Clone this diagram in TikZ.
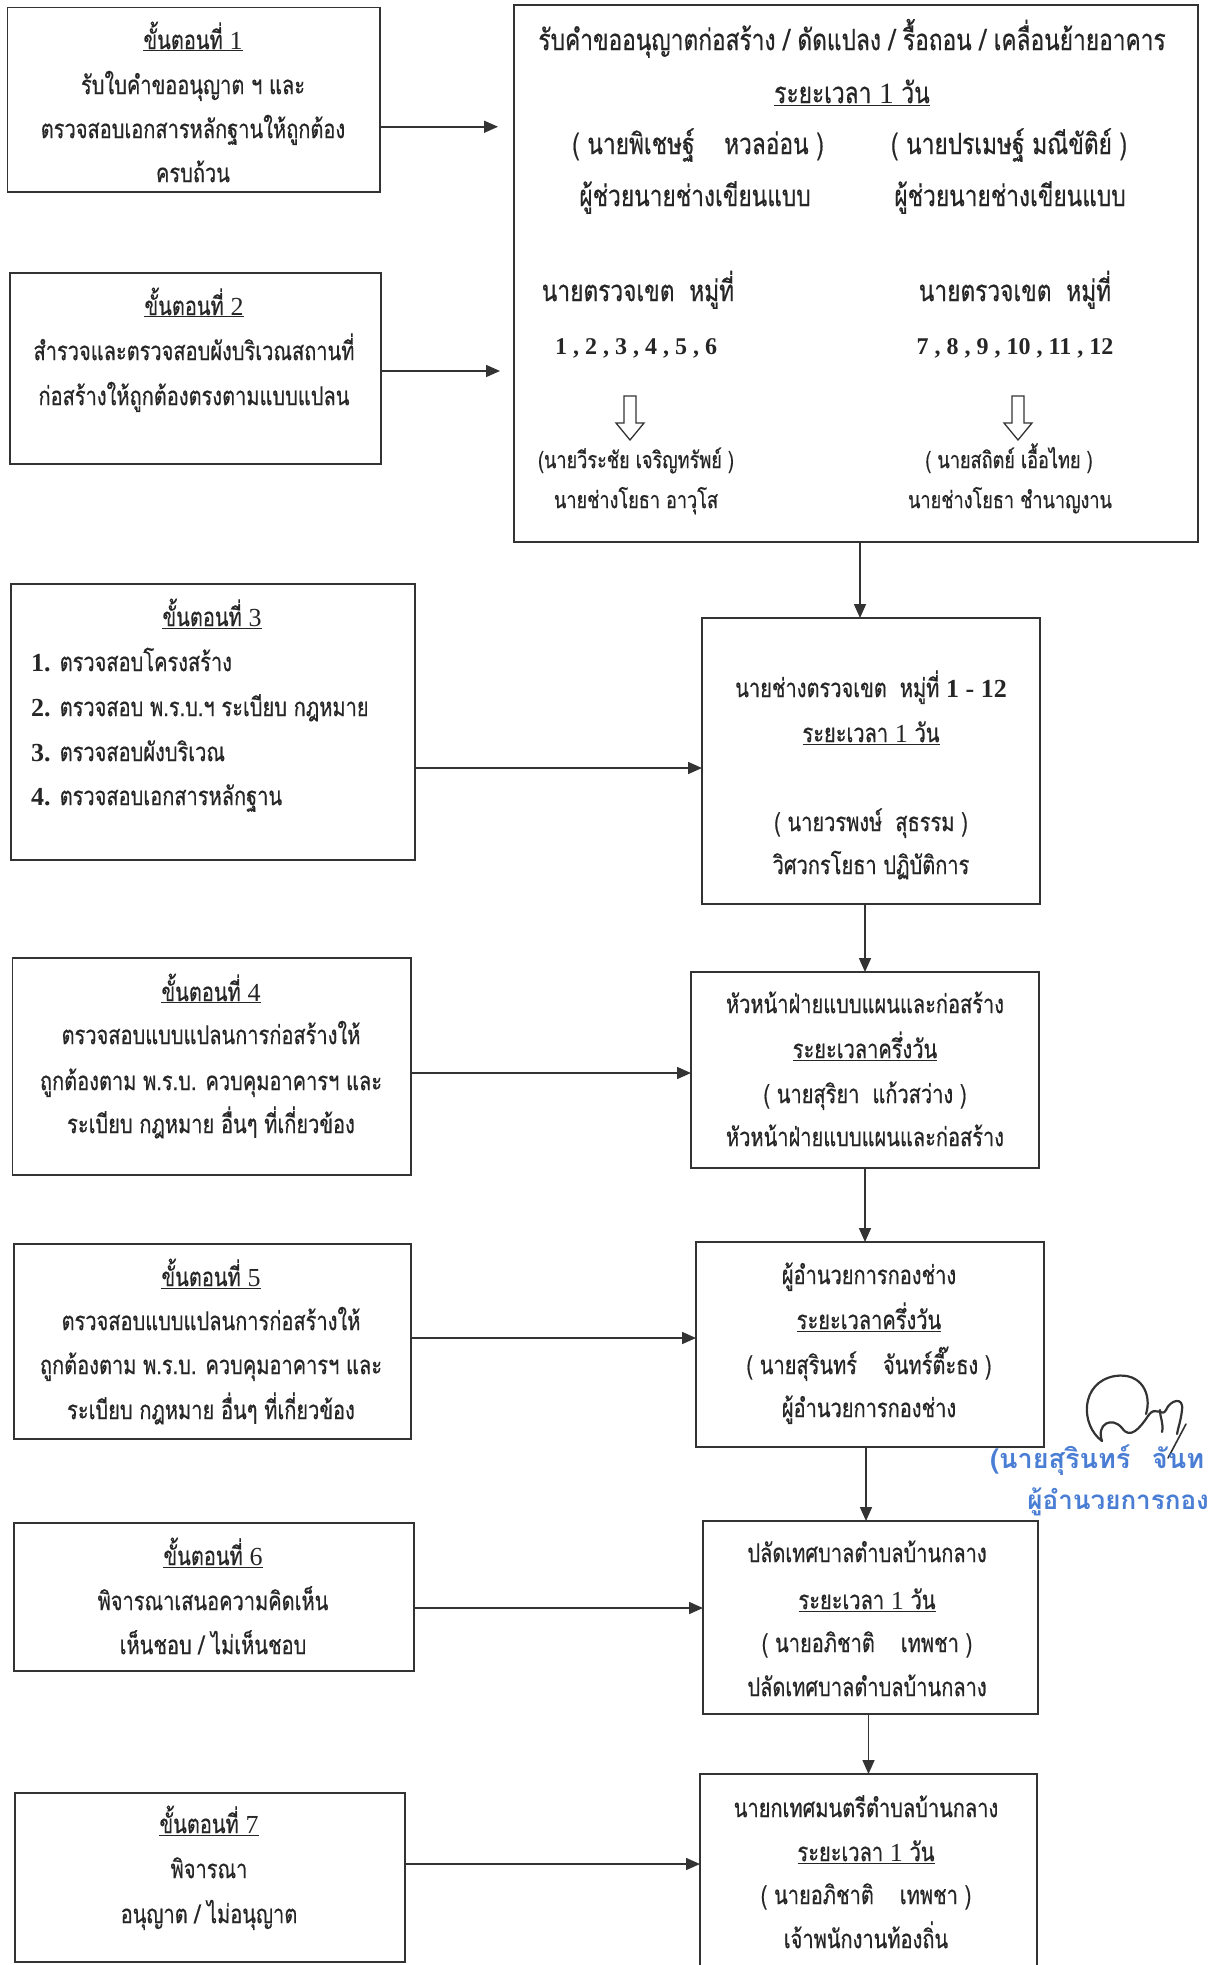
\documentclass[tikz,border=0pt]{standalone}
\usepackage{fontspec}
\usetikzlibrary{arrows.meta}
\newfontfamily\thaifont[Script=Thai,FakeStretch=0.77,FakeBold=0.5]{Loma}
\newfontfamily\sigfont[Script=Thai]{Loma}
\newfontfamily\numfont{Liberation Serif}
\definecolor{ink}{HTML}{262626}
\definecolor{edge}{HTML}{333333}
\definecolor{sigblue}{HTML}{4A7DD4}
\newcommand{\dg}[1]{{\numfont #1}}
\newcommand{\dgb}[1]{{\numfont\bfseries #1}}
\newcommand{\fsz}[1]{\fontsize{#1}{#1}\selectfont}
% box node given by its corners (x1,y1) (x2,y2), pixel-like units
\newcommand{\boxnode}[5]{%
  \node[flowbox, minimum width={#4-#2}, minimum height={#5-#3}] (#1) at ({(#2+#4)/2},{(#3+#5)/2}) {};}

\tikzset{
  flowbox/.style={draw=edge, line width=1.8pt, inner sep=0pt, outer sep=0pt},
  tx/.style={inner sep=0pt, anchor=mid, yshift=-7pt, text=ink, font=\thaifont\fsz{26}},
  txs/.style={tx, font=\thaifont\fsz{23.5}},
  txl/.style={tx, font=\thaifont\fsz{29.5}},
  conn/.style={draw=edge, line width=1.6pt, -{Triangle[length=14pt,width=12pt]}},
  hollow/.style={draw=edge, line width=1.3pt, fill=white, line join=miter},
  sig/.style={draw=edge, line width=2.2pt, line cap=round, line join=round},
}

\begin{document}
\begin{tikzpicture}[x=1pt,y=-1pt]
\fill[white] (0,0) rectangle (1211,1965);
\useasboundingbox (0,0) rectangle (1211,1965);

% ---------- step boxes (left column) ----------
\boxnode{s1}{7.5}{7.5}{380}{192}
\boxnode{s2}{10}{273}{381}{464}
\boxnode{s3}{11}{584}{415}{860}
\boxnode{s4}{12.5}{958}{411}{1175}
\boxnode{s5}{14}{1244}{411}{1439}
\boxnode{s6}{14}{1523}{414}{1671}
\boxnode{s7}{15}{1793}{405}{1962}

% ---------- responsible officers (right column) ----------
\boxnode{big}{514}{5}{1198}{542}
\boxnode{r1}{702}{618}{1040}{904}
\boxnode{r2}{691}{972}{1039}{1168}
\boxnode{r3}{696}{1242}{1044}{1447}
\boxnode{r4}{703}{1521}{1038}{1714}
\boxnode{r5}{700}{1774}{1037}{1968}

% ---------- step 1 ----------
\node[tx] (s1t) at (193,40) {\underline{ขั้นตอนที่ \dg{1}}};
\node[tx] (s1a) at (193,85) {รับใบคำขออนุญาต ฯ และ};
\node[tx] (s1b) at (193,129) {ตรวจสอบเอกสารหลักฐานให้ถูกต้อง};
\node[tx] (s1c) at (193,173) {ครบถ้วน};

% ---------- step 2 ----------
\node[tx] (s2t) at (194,306) {\underline{ขั้นตอนที่ \dg{2}}};
\node[tx] (s2a) at (194,351) {สำรวจและตรวจสอบผังบริเวณสถานที่};
\node[tx] (s2b) at (194,396) {ก่อสร้างให้ถูกต้องตรงตามแบบแปลน};

% ---------- step 3 ----------
\node[tx] (s3t) at (212,617) {\underline{ขั้นตอนที่ \dg{3}}};
\node[tx, anchor=mid west] (s3a) at (31,662) {\dgb{1.} ตรวจสอบโครงสร้าง};
\node[tx, anchor=mid west] (s3b) at (31,707) {\dgb{2.} ตรวจสอบ พ.ร.บ.ฯ ระเบียบ กฎหมาย};
\node[tx, anchor=mid west] (s3c) at (31,752) {\dgb{3.} ตรวจสอบผังบริเวณ};
\node[tx, anchor=mid west] (s3d) at (31,796) {\dgb{4.} ตรวจสอบเอกสารหลักฐาน};

% ---------- step 4 ----------
\node[tx] (s4t) at (211,992) {\underline{ขั้นตอนที่ \dg{4}}};
\node[tx] (s4a) at (211,1035) {ตรวจสอบแบบแปลนการก่อสร้างให้};
\node[tx] (s4b) at (211,1081) {ถูกต้องตาม พ.ร.บ. ควบคุมอาคารฯ และ};
\node[tx] (s4c) at (211,1124) {ระเบียบ กฎหมาย อื่นๆ ที่เกี่ยวข้อง};

% ---------- step 5 ----------
\node[tx] (s5t) at (211,1277) {\underline{ขั้นตอนที่ \dg{5}}};
\node[tx] (s5a) at (211,1321) {ตรวจสอบแบบแปลนการก่อสร้างให้};
\node[tx] (s5b) at (211,1365) {ถูกต้องตาม พ.ร.บ. ควบคุมอาคารฯ และ};
\node[tx] (s5c) at (211,1410) {ระเบียบ กฎหมาย อื่นๆ ที่เกี่ยวข้อง};

% ---------- step 6 ----------
\node[tx] (s6t) at (213,1556) {\underline{ขั้นตอนที่ \dg{6}}};
\node[tx] (s6a) at (213,1601) {พิจารณาเสนอความคิดเห็น};
\node[tx] (s6b) at (213,1645) {เห็นชอบ / ไม่เห็นชอบ};

% ---------- step 7 ----------
\node[tx] (s7t) at (209,1824) {\underline{ขั้นตอนที่ \dg{7}}};
\node[tx] (s7a) at (209,1869) {พิจารณา};
\node[tx] (s7b) at (209,1914) {อนุญาต / ไม่อนุญาต};

% ---------- application desk ----------
\node[txl] (bt) at (852,41) {รับคำขออนุญาตก่อสร้าง / ดัดแปลง / รื้อถอน / เคลื่อนย้ายอาคาร};
\node[txl] (bp) at (852,94) {\underline{ระยะเวลา \dg{1} วัน}};
\node[txl] (bn1) at (698,145) {( นายพิเชษฐ์\quad หวลอ่อน )};
\node[txl] (bn2) at (1009,145) {( นายปรเมษฐ์ มณีขัติย์ )};
\node[txl] (bj1) at (695,197) {ผู้ช่วยนายช่างเขียนแบบ};
\node[txl] (bj2) at (1010,197) {ผู้ช่วยนายช่างเขียนแบบ};
\node[txl] (bz1) at (638,292) {นายตรวจเขต\enspace หมู่ที่};
\node[txl] (bz2) at (1015,292) {นายตรวจเขต\enspace หมู่ที่};
\node[tx, yshift=2pt, font=\numfont\bfseries\fsz{24}] (bm1) at (636,347) {1 , 2 , 3 , 4 , 5 , 6};
\node[tx, yshift=2pt, font=\numfont\bfseries\fsz{24}] (bm2) at (1015,347) {7 , 8 , 9 , 10 , 11 , 12};
\draw[hollow] (624,396) -- (636,396) -- (636,423) -- (644,423) -- (630,440) -- (616,423) -- (624,423) -- cycle;
\draw[hollow] (1012,396) -- (1024,396) -- (1024,423) -- (1032,423) -- (1018,440) -- (1004,423) -- (1012,423) -- cycle;
\node[txs] (bw1) at (636,459) {(นายวีระชัย เจริญทรัพย์ )};
\node[txs] (bw2) at (1009,459) {( นายสถิตย์ เอื้อไทย )};
\node[txs] (bo1) at (636,499) {นายช่างโยธา อาวุโส};
\node[txs] (bo2) at (1010,499) {นายช่างโยธา ชำนาญงาน};

% ---------- district engineer ----------
\node[tx] (r1a) at (871,688) {นายช่างตรวจเขต\enspace หมู่ที่ \dgb{1 - 12}};
\node[tx] (r1b) at (871,733) {\underline{ระยะเวลา \dg{1} วัน}};
\node[tx] (r1c) at (871,822) {( นายวรพงษ์\enspace สุธรรม )};
\node[tx] (r1d) at (871,865) {วิศวกรโยธา ปฏิบัติการ};

% ---------- head of design section ----------
\node[tx] (r2a) at (865,1004) {หัวหน้าฝ่ายแบบแผนและก่อสร้าง};
\node[tx] (r2b) at (865,1049) {\underline{ระยะเวลาครึ่งวัน}};
\node[tx] (r2c) at (865,1094) {( นายสุริยา\enspace แก้วสว่าง )};
\node[tx] (r2d) at (865,1137) {หัวหน้าฝ่ายแบบแผนและก่อสร้าง};

% ---------- director of engineering ----------
\node[tx] (r3a) at (869,1275) {ผู้อำนวยการกองช่าง};
\node[tx] (r3b) at (869,1320) {\underline{ระยะเวลาครึ่งวัน}};
\node[tx] (r3c) at (869,1365) {( นายสุรินทร์\quad จันทร์ตี๊ะธง )};
\node[tx] (r3d) at (869,1408) {ผู้อำนวยการกองช่าง};

% ---------- municipal clerk ----------
\node[tx] (r4a) at (867,1553) {ปลัดเทศบาลตำบลบ้านกลาง};
\node[tx] (r4b) at (867,1600) {\underline{ระยะเวลา \dg{1} วัน}};
\node[tx] (r4c) at (867,1643) {( นายอภิชาติ\quad เทพชา )};
\node[tx] (r4d) at (867,1687) {ปลัดเทศบาลตำบลบ้านกลาง};

% ---------- mayor ----------
\node[tx] (r5a) at (866,1808) {นายกเทศมนตรีตำบลบ้านกลาง};
\node[tx] (r5b) at (866,1852) {\underline{ระยะเวลา \dg{1} วัน}};
\node[tx] (r5c) at (866,1895) {( นายอภิชาติ\quad เทพชา )};
\node[tx] (r5d) at (866,1939) {เจ้าพนักงานท้องถิ่น};

% ---------- connectors ----------
\draw[conn, shorten >=16pt] ([yshift=-27pt]s1.east) -- ([yshift=-27pt]s1.east -| big.west);
\draw[conn, shorten >=14pt] ([yshift=-2.5pt]s2.east) -- ([yshift=-2.5pt]s2.east -| big.west);
\draw[conn] ([yshift=-46pt]s3.east) -- ([yshift=-46pt]s3.east -| r1.west);
\draw[conn] ([yshift=-6.5pt]s4.east) -- ([yshift=-6.5pt]s4.east -| r2.west);
\draw[conn] ([yshift=3.5pt]s5.east) -- ([yshift=3.5pt]s5.east -| r3.west);
\draw[conn] ([yshift=-11pt]s6.east) -- ([yshift=-11pt]s6.east -| r4.west);
\draw[conn] ([yshift=13.5pt]s7.east) -- ([yshift=13.5pt]s7.east -| r5.west);

\draw[conn] ([xshift=4pt]big.south) -- ([xshift=4pt]big.south |- r1.north);
\draw[conn] (r2.north |- r1.south) -- (r2.north);
\draw[conn] (r2.south) -- (r2.south |- r3.north);
\draw[conn] ([xshift=-4pt]r3.south) -- ([xshift=-4pt]r3.south |- r4.north);
\draw[conn] (r5.north |- r4.south) -- (r5.north);

% ---------- signature ----------
\draw[sig] (1102,1441) .. controls (1080,1425) and (1080,1382) .. (1115,1376)
  .. controls (1142,1372) and (1152,1395) .. (1146,1414);
\draw[sig] (1102,1441) .. controls (1096,1424) and (1112,1416) .. (1122,1428)
  .. controls (1130,1440) and (1140,1428) .. (1148,1416)
  .. controls (1156,1404) and (1162,1418) .. (1166,1410)
  .. controls (1170,1400) and (1184,1396) .. (1182,1410)
  .. controls (1181,1420) and (1178,1428) .. (1177,1434);
\draw[sig] (1160,1410) .. controls (1160,1418) and (1164,1424) .. (1162,1432);
\draw[sig, line width=1.6pt] (1186,1424) -- (1168,1458);
\node[inner sep=0pt, anchor=mid west, text=sigblue, font=\sigfont\bfseries\fsz{27}] (sgname) at (990,1466) {(นายสุรินทร์\hspace{0.8em}จันท};
\node[inner sep=0pt, anchor=mid east, text=sigblue, font=\sigfont\bfseries\fsz{26}] (sgrole) at (1209,1507) {ผู้อำนวยการกอง};
\end{tikzpicture}
\end{document}
